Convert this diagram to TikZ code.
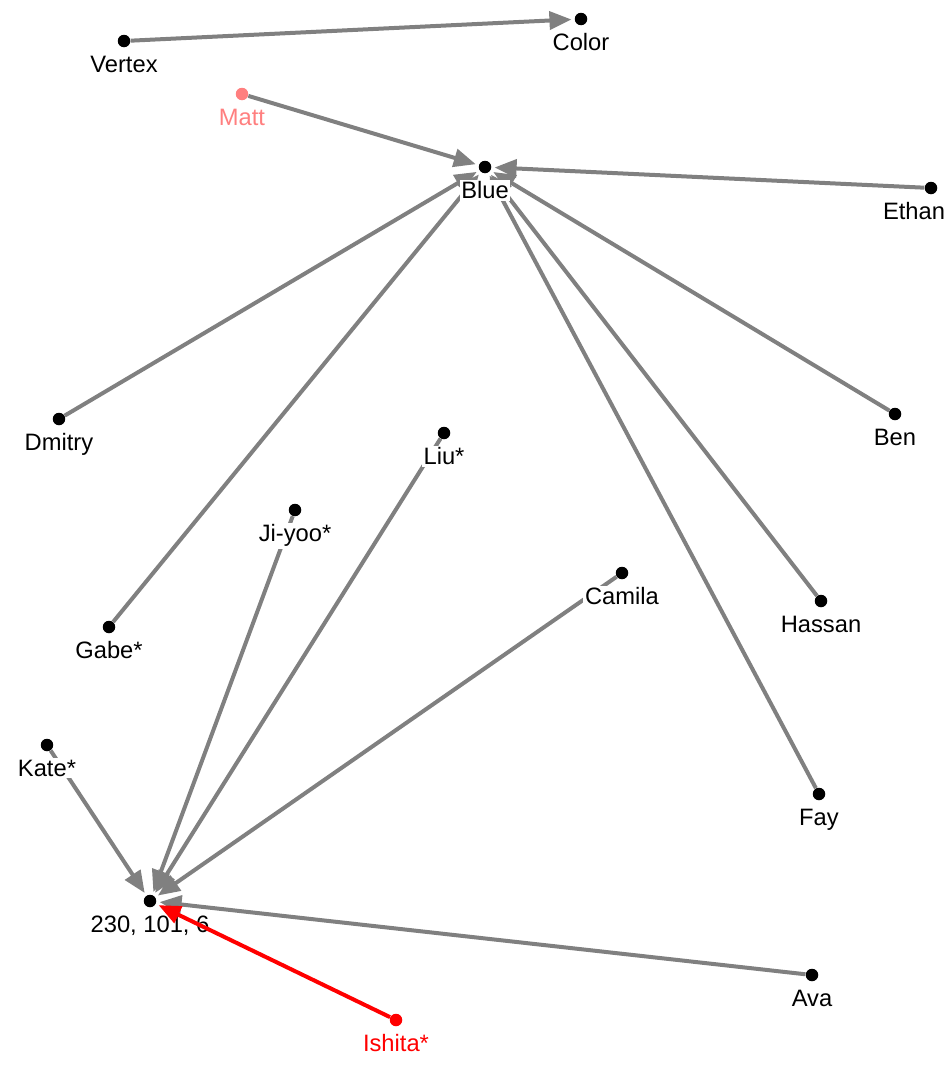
\documentclass[tikz,border=0pt]{standalone}
\usepackage{fontspec}
\setmainfont{Liberation Sans}
\usetikzlibrary{arrows.meta, backgrounds}
\definecolor{edgegray}{HTML}{808080}
\definecolor{mattpink}{HTML}{FF7F7F}
\definecolor{ishitared}{HTML}{FF0000}

\begin{document}
\begin{tikzpicture}[x=0.02cm, y=-0.02cm, font=\fontsize{13.5}{16}\selectfont,
 vtx/.style={circle, fill=black, inner sep=0pt, minimum size=0.25cm},
 lbl/.style={fill=white, inner sep=1pt, yshift=-0.12cm},
 link/.style={draw=edgegray, line width=0.08cm, -{Triangle[length=0.44cm,width=0.36cm]}, shorten >=0.06cm}]
\useasboundingbox (0,0) rectangle (950,1065);

\node[vtx, label={[lbl]below:Vertex}](vertex) at (124,41){};
\node[vtx, label={[lbl]below:Color}](color) at (581,19){};
\node[vtx, fill=mattpink, label={[lbl, text=mattpink]below:Matt}](matt) at (242,94){};
\node[vtx, label={[lbl]below:Blue}](blue) at (485,167){};
\node[vtx, label={[lbl, xshift=-0.34cm]below:Ethan}](ethan) at (931,188){};
\node[vtx, label={[lbl]below:Dmitry}](dmitry) at (59,419){};
\node[vtx, label={[lbl]below:Ben}](ben) at (895,414){};
\node[vtx, label={[lbl]below:Liu*}](liu) at (444,433){};
\node[vtx, label={[lbl]below:Ji-yoo*}](jiyoo) at (295,510){};
\node[vtx, label={[lbl]below:Camila}](camila) at (622,573){};
\node[vtx, label={[lbl]below:Hassan}](hassan) at (821,601){};
\node[vtx, label={[lbl]below:Gabe*}](gabe) at (109,627){};
\node[vtx, label={[lbl]below:Kate*}](kate) at (47,745){};
\node[vtx, label={[lbl]below:Fay}](fay) at (819,794){};
\node[vtx, label={[lbl]below:{230, 101, 6}}](rgb) at (150,901){};
\node[vtx, label={[lbl]below:Ava}](ava) at (812,975){};
\node[vtx, fill=ishitared, label={[lbl, text=ishitared]below:Ishita*}](ishita) at (396,1020){};

\begin{scope}[on background layer]
\foreach \a/\b in {vertex/color,matt/blue,ethan/blue,dmitry/blue,gabe/blue,ben/blue,hassan/blue,fay/blue,
  kate/rgb,jiyoo/rgb,liu/rgb,camila/rgb,ava/rgb}
  {\draw[link](\a)--(\b);}
\end{scope}
\draw[link, draw=ishitared, fill=ishitared](ishita)--(rgb);

\end{tikzpicture}
\end{document}
